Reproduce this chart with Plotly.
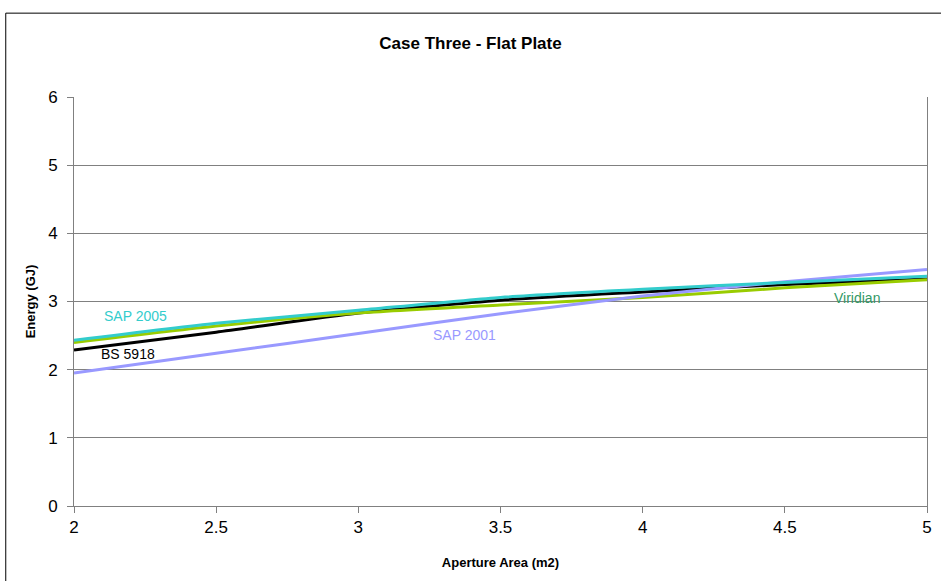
import plotly.graph_objects as go

area = [2.0, 2.5, 3.0, 3.5, 4.0, 4.5, 5.0]
bs5918 = [2.29, 2.55, 2.83, 3.02, 3.14, 3.25, 3.33]
viridian = [2.40, 2.64, 2.83, 2.95, 3.06, 3.20, 3.32]
sap2001 = [1.95, 2.24, 2.53, 2.82, 3.08, 3.29, 3.47]
sap2005 = [2.43, 2.68, 2.87, 3.06, 3.18, 3.28, 3.37]

yticks = [0, 1, 2, 3, 4, 5, 6]
xticks = [2, 2.5, 3, 3.5, 4, 4.5, 5]

font = "Liberation Sans, Arial, sans-serif"

fig = go.Figure()
series = [
    ("BS 5918", bs5918, "#000000"),
    ("Viridian", viridian, "#99CC00"),
    ("SAP 2001", sap2001, "#9999FF"),
    ("SAP 2005", sap2005, "#33CCCC"),
]
for name, ys, col in series:
    fig.add_trace(go.Scatter(x=area, y=ys, mode="lines", name=name,
                             line=dict(color=col, width=3, shape="spline", smoothing=0.6)))

labels = [
    ("SAP 2005", 2.215, 2.79, "#33CCCC"),
    ("BS 5918", 2.19, 2.23, "#000000"),
    ("SAP 2001", 3.375, 2.51, "#9999FF"),
    ("Viridian", 4.754, 3.05, "#339966"),
]
for t, x, y, c in labels:
    fig.add_annotation(x=x, y=y, text=t, showarrow=False,
                       font=dict(family=font, size=14, color=c))

# outer chart frame
fig.add_shape(type="rect", xref="paper", yref="paper",
              x0=-0.080, x1=1.2, y0=-0.5, y1=1.205,
              line=dict(color="#000000", width=1), fillcolor="rgba(0,0,0,0)", layer="below")

fig.update_layout(
    width=941, height=581,
    margin=dict(l=74, r=14, t=97, b=75),
    paper_bgcolor="white", plot_bgcolor="white",
    showlegend=False,
    title=dict(text="<b>Case Three - Flat Plate</b>", x=0.5, xanchor="center",
               y=1 - 43 / 581, yanchor="middle",
               font=dict(family=font, size=17, color="#000000")),
    font=dict(family=font, color="#000000"),
    xaxis=dict(range=[2, 5], tickvals=xticks, ticktext=[str(v) for v in xticks],
               showgrid=False, zeroline=False, showline=True, linecolor="#808080",
               linewidth=1, ticks="outside", ticklen=6, tickcolor="#808080",
               tickfont=dict(size=17, family=font), automargin=False,
               title=dict(text="<b>Aperture Area (m2)</b>", font=dict(size=13, family=font),
                          standoff=21)),
    yaxis=dict(range=[0, 6], tickvals=yticks, showgrid=True, gridcolor="#808080",
               gridwidth=1, zeroline=False, showline=True, linecolor="#808080",
               linewidth=1, mirror=True, ticks="outside", ticklen=6, tickcolor="#808080",
               tickfont=dict(size=17, family=font), automargin=False,
               ticklabelstandoff=6,
               title=dict(text="<b>Energy (GJ)</b>", font=dict(size=13, family=font),
                          standoff=9)),
)

fig.write_html("out.html")
